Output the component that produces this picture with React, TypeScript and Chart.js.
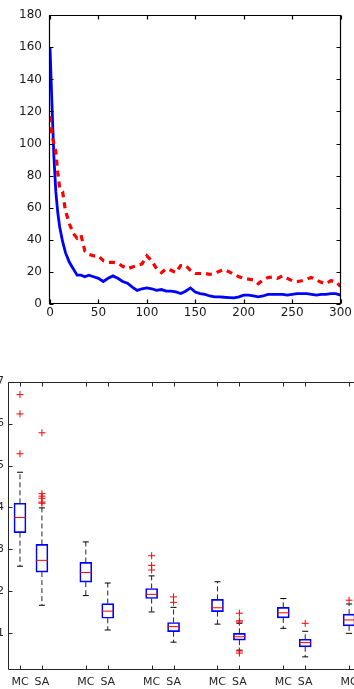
import React, { useEffect, useRef } from 'react';
import { Chart, registerables } from 'chart.js';

Chart.register(...registerables);

// ---------- Top chart data (line chart) ----------
const lineX = [0, 2, 4, 6, 8, 10, 13, 16, 20, 24, 28, 32, 36, 40, 45, 50, 55, 60, 65, 70, 75, 80, 85, 90, 95, 100, 105, 110, 115, 120, 125, 130, 135, 140, 145, 150, 155, 160, 165, 170, 175, 180, 185, 190, 195, 200, 205, 210, 215, 220, 225, 230, 235, 240, 245, 250, 255, 260, 265, 270, 275, 280, 285, 290, 295, 300];
const blueValues = [160, 125, 92, 70, 57, 48, 39, 32, 26, 22, 18, 18, 17, 18, 17, 16, 14, 16, 17.5, 16, 14, 13, 10.5, 8.5, 9.5, 10, 9.5, 8.5, 9, 8, 8, 7.5, 6.5, 8, 10, 7.5, 6.5, 6, 5, 4.5, 4.5, 4.2, 4, 3.8, 4.5, 5.5, 5.5, 5, 4.5, 5, 6, 6, 6, 6, 5.5, 6, 6.5, 6.5, 6.5, 6, 5.5, 6, 6, 6.5, 6.5, 5.5];
const redValues = [117, 105, 100, 95, 82, 72, 70, 58, 50, 44, 41, 43, 33, 31, 30, 30, 27, 26, 26, 25.5, 23.5, 22, 23, 24, 25, 30, 27, 22, 19.5, 22, 21, 19.5, 24, 24, 21, 19, 19, 19, 18.5, 19, 20.5, 21.5, 20, 18.5, 17, 16, 15.5, 15, 12.7, 15, 16.5, 16.8, 16, 17.5, 16, 14.5, 14, 14.5, 15.5, 16.5, 15, 13.5, 12.7, 14.5, 14, 11];
const lineXRange = [0, 300];
const lineYRange = [0, 180];
const lineXStep = 50;
const lineYStep = 20;

// ---------- Bottom chart data (box plots) ----------
const boxPositions = [1, 2, 4, 5, 7, 8, 10, 11, 13, 14, 16];
const boxLabels = ['MC', 'SA', 'MC', 'SA', 'MC', 'SA', 'MC', 'SA', 'MC', 'SA', 'MC'];
const whiskerLow = [2.60, 1.67, 1.90, 1.08, 1.51, 0.79, 1.22, 0.60, 1.12, 0.44, 1.00];
const quartile1 = [3.40, 2.46, 2.22, 1.36, 1.83, 1.04, 1.52, 0.84, 1.37, 0.68, 1.18];
const medians = [3.76, 2.74, 2.45, 1.53, 1.93, 1.16, 1.61, 0.92, 1.49, 0.78, 1.32];
const quartile3 = [4.10, 3.12, 2.69, 1.71, 2.07, 1.26, 1.81, 1.00, 1.62, 0.86, 1.46];
const whiskerHigh = [4.84, 3.99, 3.18, 2.20, 2.37, 1.62, 2.23, 1.24, 1.83, 1.05, 1.70];
const outliers = [
  [6.69, 6.23, 5.28],
  [5.78, 4.33, 4.27, 4.22, 4.13, 4.10],
  [],
  [],
  [2.85, 2.62, 2.51],
  [1.87, 1.74],
  [],
  [1.48, 1.30, 1.27, 0.58, 0.53],
  [],
  [1.24],
  [1.79],
];
const boxYTicks = [1, 2, 3, 4, 5, 6, 7];
const boxYRange = [0.127, 7];
const boxXRange = [0.5, 18];

const frameTicksPlugin = {
  id: 'frameTicks',
  afterDraw(chart: any) {
    const opts = (chart.options.plugins && chart.options.plugins.frameTicks) || {};
    const { ctx, chartArea: a, scales } = chart;
    const len = opts.len || 4;
    const L = Math.round(a.left) - 0.5;
    const R = Math.round(a.right) - 0.5;
    const T = Math.round(a.top) + 0.5;
    const B = Math.round(a.bottom) - 0.5;
    ctx.save();
    ctx.setLineDash([]);
    ctx.strokeStyle = opts.color || '#000';
    ctx.lineWidth = opts.width || 1;
    ctx.beginPath();
    ctx.moveTo(L, T);
    ctx.lineTo(R, T);
    ctx.lineTo(R, B);
    ctx.lineTo(L, B);
    ctx.closePath();
    const xs = scales.x;
    xs.ticks.forEach((t: any) => {
      const px = Math.round(xs.getPixelForValue(t.value)) + 0.5;
      ctx.moveTo(px, B);
      ctx.lineTo(px, B - len);
      ctx.moveTo(px, T);
      ctx.lineTo(px, T + len);
    });
    const ys = scales.y;
    ys.ticks.forEach((t: any) => {
      const py = Math.round(ys.getPixelForValue(t.value)) + 0.5;
      ctx.moveTo(L, py);
      ctx.lineTo(L + len, py);
      ctx.moveTo(R, py);
      ctx.lineTo(R - len, py);
    });
    ctx.stroke();
    ctx.restore();
  },
};

function LineChart() {
  const ref = useRef<HTMLCanvasElement>(null);
  useEffect(() => {
    const font = { family: 'DejaVu Sans', size: 12 };
    const chart = new Chart(ref.current as HTMLCanvasElement, {
      type: 'line',
      data: {
        datasets: [
          {
            data: lineX.map((x, i) => ({ x, y: redValues[i] })),
            borderColor: '#ff0000',
            borderWidth: 3.2,
            borderDash: [6, 5],
            pointRadius: 0,
            tension: 0,
            fill: false,
          },
          {
            data: lineX.map((x, i) => ({ x, y: blueValues[i] })),
            borderColor: '#0000ff',
            borderWidth: 2.8,
            pointRadius: 0,
            tension: 0,
            fill: false,
          },
        ],
      },
      options: {
        animation: false,
        responsive: false,
        devicePixelRatio: 1,
        layout: { padding: { left: 0, top: 12, right: 12, bottom: 0 } },
        plugins: {
          legend: { display: false },
          tooltip: { enabled: false },
          frameTicks: { len: 4, color: '#000000', width: 1.2 },
        } as any,
        scales: {
          x: {
            type: 'linear',
            min: lineXRange[0],
            max: lineXRange[1],
            grid: { display: false, drawTicks: false },
            border: { display: false },
            ticks: { stepSize: lineXStep, padding: 2, color: '#1a1a1a', font, maxRotation: 0 },
            afterFit: (s: any) => { s.height = 26; },
          },
          y: {
            type: 'linear',
            min: lineYRange[0],
            max: lineYRange[1],
            grid: { display: false, drawTicks: false },
            border: { display: false },
            ticks: { stepSize: lineYStep, padding: 8, color: '#1a1a1a', font },
            afterFit: (s: any) => { s.width = 50; },
          },
        },
      },
      plugins: [frameTicksPlugin],
    } as any);
    return () => chart.destroy();
  }, []);
  return (
    <canvas
      ref={ref}
      width={354}
      height={330}
      style={{ position: 'absolute', left: 0, top: 0, width: 354, height: 330 }}
    />
  );
}

function BoxChart() {
  const ref = useRef<HTMLCanvasElement>(null);
  useEffect(() => {
    const font = { family: 'DejaVu Sans', size: 11 };
    const outlierPts: any[] = [];
    boxPositions.forEach((p, i) => outliers[i].forEach((v) => outlierPts.push({ x: p, y: v })));
    const capPts: any[] = [];
    boxPositions.forEach((p, i) => {
      capPts.push({ x: p, y: whiskerHigh[i] });
      capPts.push({ x: p, y: whiskerLow[i] });
    });
    const whiskerPts: any[] = [];
    boxPositions.forEach((p, i) => {
      whiskerPts.push({ x: p, y: quartile3[i] });
      whiskerPts.push({ x: p, y: whiskerHigh[i] });
      whiskerPts.push({ x: p, y: null });
      whiskerPts.push({ x: p, y: quartile1[i] });
      whiskerPts.push({ x: p, y: whiskerLow[i] });
      whiskerPts.push({ x: p, y: null });
    });
    const chart = new Chart(ref.current as HTMLCanvasElement, {
      type: 'bar',
      data: {
        datasets: [
          {
            type: 'scatter',
            data: outlierPts,
            pointStyle: 'cross',
            pointRadius: 3.5,
            borderColor: '#ff0000',
            backgroundColor: 'rgba(0,0,0,0)',
            borderWidth: 1,
          },
          {
            type: 'scatter',
            data: boxPositions.map((p, i) => ({ x: p, y: medians[i] })),
            pointStyle: 'line',
            pointRadius: 6,
            borderColor: '#ff0000',
            borderWidth: 1,
          },
          {
            type: 'scatter',
            data: capPts,
            pointStyle: 'line',
            pointRadius: 3,
            borderColor: '#000000',
            borderWidth: 1,
          },
          {
            type: 'line',
            data: whiskerPts,
            borderColor: '#222222',
            borderWidth: 1,
            borderDash: [5, 3],
            pointRadius: 0,
            spanGaps: false,
            fill: false,
            tension: 0,
          },
          {
            type: 'bar',
            data: boxPositions.map((p, i) => ({ x: p, y: [quartile1[i], quartile3[i]] })),
            borderColor: '#0000ff',
            backgroundColor: 'rgba(0,0,0,0)',
            borderWidth: 1,
            borderSkipped: false,
            barThickness: 12,
          },
        ],
      },
      options: {
        animation: false,
        responsive: false,
        devicePixelRatio: 1,
        layout: { padding: { left: 0, top: 11, right: 0, bottom: 0 } },
        plugins: {
          legend: { display: false },
          tooltip: { enabled: false },
          frameTicks: { len: 4, color: '#262626', width: 1 },
        } as any,
        scales: {
          x: {
            type: 'linear',
            offset: false,
            min: boxXRange[0],
            max: boxXRange[1],
            grid: { display: false, drawTicks: false },
            border: { display: false },
            afterBuildTicks: (s: any) => { s.ticks = boxPositions.map((v) => ({ value: v })); },
            ticks: {
              autoSkip: false,
              maxRotation: 0,
              padding: 6,
              color: '#262626',
              font,
              callback: (_v: any, i: number) => boxLabels[i],
            },
            afterFit: (s: any) => { s.height = 19; },
          },
          y: {
            type: 'linear',
            min: boxYRange[0],
            max: boxYRange[1],
            beginAtZero: false,
            grid: { display: false, drawTicks: false },
            border: { display: false },
            afterBuildTicks: (s: any) => { s.ticks = boxYTicks.map((v) => ({ value: v })); },
            ticks: {
              padding: 5,
              color: '#262626',
              font,
              callback: (v: any) => String(v),
            },
            afterFit: (s: any) => { s.width = 39; },
          },
        },
      },
      plugins: [frameTicksPlugin],
    } as any);
    return () => chart.destroy();
  }, []);
  return (
    <canvas
      ref={ref}
      width={430}
      height={319}
      style={{ position: 'absolute', left: -30, top: 370, width: 430, height: 319 }}
    />
  );
}

export default function App() {
  return (
    <div
      style={{
        position: 'fixed',
        left: 0,
        top: 0,
        width: 354,
        height: 689,
        overflow: 'hidden',
        background: '#ffffff',
      }}
    >
      <LineChart />
      <BoxChart />
    </div>
  );
}
